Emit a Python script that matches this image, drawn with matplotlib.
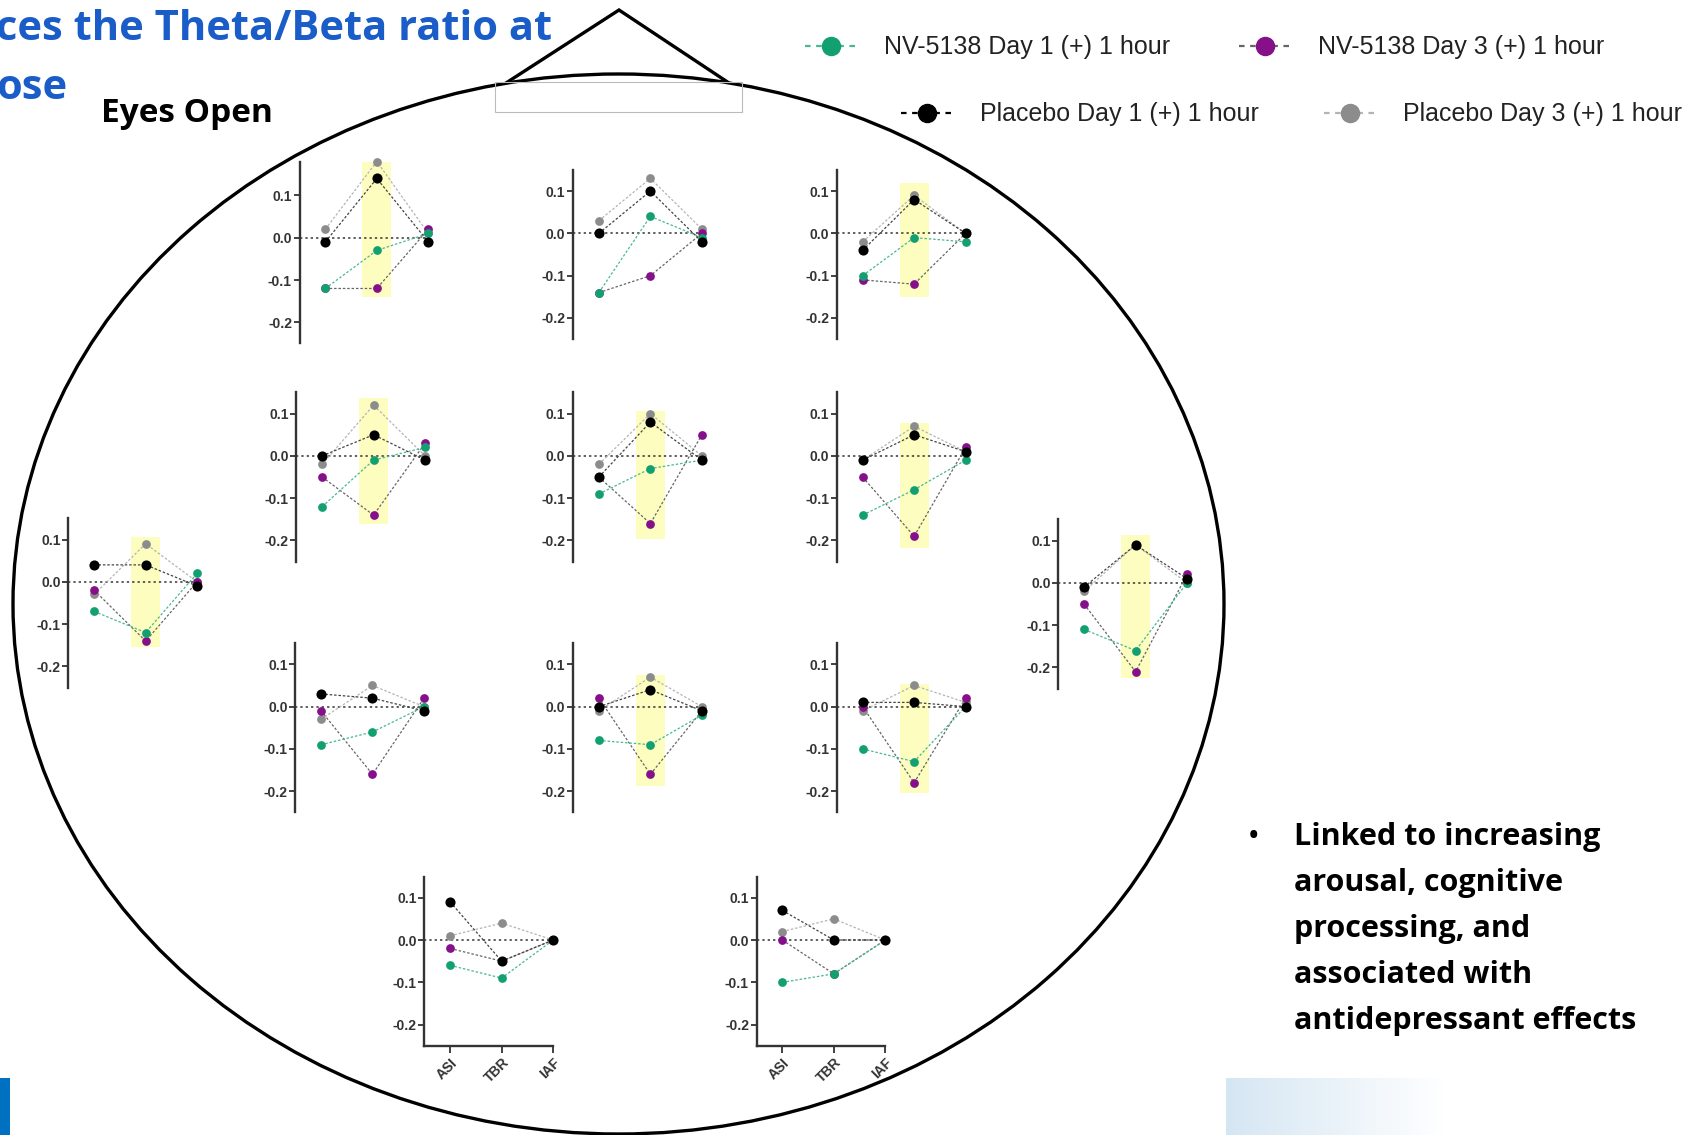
import numpy as np
import matplotlib
matplotlib.use("Agg")
import matplotlib.pyplot as plt
from matplotlib.patches import Ellipse, Rectangle, Polygon
from matplotlib.lines import Line2D
from matplotlib.colors import LinearSegmentedColormap

measures = ["ASI", "TBR", "IAF"]
series_names = ["NV-5138 Day 1 (+) 1 hour", "NV-5138 Day 3 (+) 1 hour",
                "Placebo Day 1 (+) 1 hour", "Placebo Day 3 (+) 1 hour"]

# one row per electrode panel, values for ASI, TBR, IAF
nv_day1 = [
    [-0.12, -0.03, 0.01],
    [-0.14, 0.04, -0.01],
    [-0.10, -0.01, -0.02],
    [-0.12, -0.01, 0.02],
    [-0.09, -0.03, -0.01],
    [-0.14, -0.08, -0.01],
    [-0.07, -0.12, 0.02],
    [-0.11, -0.16, 0.00],
    [-0.09, -0.06, 0.00],
    [-0.08, -0.09, -0.02],
    [-0.10, -0.13, 0.00],
    [-0.06, -0.09, 0.00],
    [-0.10, -0.08, 0.00],
]
nv_day3 = [
    [-0.12, -0.12, 0.02],
    [-0.14, -0.10, 0.00],
    [-0.11, -0.12, 0.00],
    [-0.05, -0.14, 0.03],
    [-0.05, -0.16, 0.05],
    [-0.05, -0.19, 0.02],
    [-0.02, -0.14, 0.00],
    [-0.05, -0.21, 0.02],
    [-0.01, -0.16, 0.02],
    [0.02, -0.16, -0.01],
    [0.00, -0.18, 0.02],
    [-0.02, -0.05, 0.00],
    [0.00, -0.08, 0.00],
]
placebo_day1 = [
    [-0.01, 0.14, -0.01],
    [0.00, 0.10, -0.02],
    [-0.04, 0.08, 0.00],
    [0.00, 0.05, -0.01],
    [-0.05, 0.08, -0.01],
    [-0.01, 0.05, 0.01],
    [0.04, 0.04, -0.01],
    [-0.01, 0.09, 0.01],
    [0.03, 0.02, -0.01],
    [0.00, 0.04, -0.01],
    [0.01, 0.01, 0.00],
    [0.09, -0.05, 0.00],
    [0.07, 0.00, 0.00],
]
placebo_day3 = [
    [0.02, 0.18, 0.01],
    [0.03, 0.13, 0.01],
    [-0.02, 0.09, 0.00],
    [-0.02, 0.12, 0.00],
    [-0.02, 0.10, 0.00],
    [-0.01, 0.07, 0.01],
    [-0.03, 0.09, 0.00],
    [-0.02, 0.09, 0.00],
    [-0.03, 0.05, 0.00],
    [-0.01, 0.07, 0.00],
    [-0.01, 0.05, 0.01],
    [0.01, 0.04, 0.00],
    [0.02, 0.05, 0.00],
]
# highlighted TBR band (top, bottom) or None
highlight = [(0.19, -0.14), None, (0.118, -0.151), (0.136, -0.16), (0.105, -0.197),
             (0.077, -0.218), (0.105, -0.154), (0.113, -0.226), None,
             (0.074, -0.187), (0.054, -0.205), None, None]

bullet_lines = ["Linked to increasing", "arousal, cognitive", "processing, and",
                "associated with", "antidepressant effects"]

# layout: spine x, zero-line y (pixels of a 1568 wide view), top of y axis
panel_pos = [(276, 219, 0.18), (528, 215, 0.15), (771, 215, 0.15),
             (273, 420, 0.15), (528, 420, 0.15), (771, 420, 0.15),
             (63, 536, 0.15), (975, 537, 0.15),
             (272, 651, 0.15), (528, 651, 0.15), (771, 651, 0.15),
             (391, 866, 0.15), (697, 866, 0.15)]
bottom_panels = [11, 12]

W, H = 1702, 1135
S = W / 1568.0
XU = 51.5   # px per category
YU = 423.0  # px per unit of y

marker_col = ["#13a070", "#85108a", "#000000", "#8c8c8c"]
line_col = ["#48b892", "#666666", "#444444", "#b4b4b4"]
draw_order = [3, 1, 0, 2]
msize = [6.3, 6.3, 7.3, 6.3]

fig = plt.figure(figsize=(W / 100, H / 100), dpi=100)
bg = fig.add_axes([0, 0, 1, 1])
bg.set_xlim(0, W)
bg.set_ylim(H, 0)
bg.axis("off")

# head outline, nose and small box
bg.add_patch(Ellipse((618.5, 604), 1211, 1060, fill=False, lw=2.4, ec="black"))
bg.add_patch(Polygon([[506, 83], [619, 10], [729, 83]], closed=False, fill=False,
                     lw=2.4, ec="black"))
bg.add_patch(Rectangle((495, 82), 247, 30, fill=False, lw=0.8, ec="#bbbbbb"))

# bottom decorations
bg.add_patch(Rectangle((0, 1078), 10, 57, color="#0070c0", lw=0))
grad = np.linspace(0, 1, 256).reshape(1, -1)
cmap = LinearSegmentedColormap.from_list("fade", ["#d5e6f3", "#ffffff"])
bg.imshow(grad, cmap=cmap, extent=(1226, 1445, 1135, 1078), aspect="auto")
bg.set_xlim(0, W)
bg.set_ylim(H, 0)

# title fragments
bg.text(-4, 40, "ces the Theta/Beta ratio at", color="#1a5dc8", fontsize=30,
        fontweight="bold", family="Open Sans", va="baseline", ha="left")
bg.text(-4, 99, "ose", color="#1a5dc8", fontsize=30, fontweight="bold",
        family="Open Sans", va="baseline", ha="left")
bg.text(101, 114, "Eyes Open", color="black", fontsize=24, fontweight="bold",
        family="Open Sans", va="center", ha="left")

# legend
leg_pos = [(831, 46), (1265, 46), (927, 113), (1350, 113)]
for i, (lx, ly) in enumerate(leg_pos):
    bg.add_line(Line2D([lx - 26, lx + 26], [ly, ly], color=line_col[i] if i != 2 else "#000000",
                       ls=(0, (2.5, 2.5)), lw=1.6))
    bg.plot(lx, ly, "o", color=marker_col[i], ms=13, zorder=5)
    bg.text(lx + 53, ly + 1, series_names[i], fontsize=18, family="Liberation Sans",
            va="center", ha="left", color="#222222")

# bullet text
for k, line in enumerate(bullet_lines):
    y = 837 + k * 46
    if k == 0:
        bg.text(1254, y, "\u2022", fontsize=18, fontweight="bold", family="Open Sans",
                va="center", ha="center")
    bg.text(1294, y, line, fontsize=22, fontweight="bold", family="Open Sans",
            va="center", ha="left")

xs = np.arange(len(measures))
series = [nv_day1, nv_day3, placebo_day1, placebo_day3]

for p, (sx, zy, ytop) in enumerate(panel_pos):
    x0 = sx * S
    y0 = zy * S
    left = x0 / W
    width = 2.5 * XU / W
    bottom = 1 - (y0 + 0.25 * YU) / H
    height = (ytop + 0.25) * YU / H
    ax = fig.add_axes([left, bottom, width, height])
    ax.patch.set_alpha(0)
    ax.set_xlim(-0.5, 2.0)
    ax.set_ylim(-0.25, ytop)
    for side in ["top", "right"]:
        ax.spines[side].set_visible(False)
    ax.spines["left"].set_linewidth(1.7)
    ax.spines["left"].set_color("#333333")
    ax.set_yticks([0.1, 0.0, -0.1, -0.2])
    ax.set_yticklabels(["0.1", "0.0", "-0.1", "-0.2"])
    ax.tick_params(axis="y", length=4, width=1.3, color="#333333", pad=1.5,
                   labelsize=10, labelcolor="#333333")
    for lab in ax.get_yticklabels():
        lab.set_fontweight("bold")
        lab.set_family("Liberation Sans")
    if p in bottom_panels:
        ax.spines["bottom"].set_linewidth(1.7)
        ax.spines["bottom"].set_color("#333333")
        ax.set_xticks(xs)
        ax.set_xticklabels(measures, rotation=45, ha="right",
                           rotation_mode="anchor")
        ax.tick_params(axis="x", length=5, width=1.3, color="#333333",
                       labelsize=10, labelcolor="#333333", pad=2)
        for lab in ax.get_xticklabels():
            lab.set_fontweight("bold")
            lab.set_family("Liberation Sans")
    else:
        ax.spines["bottom"].set_visible(False)
        ax.set_xticks([])

    if highlight[p] is not None:
        top, bot = highlight[p]
        ax.add_patch(Rectangle((1 - 0.28, bot), 0.56, top - bot,
                               color="#fdfdbf", lw=0, zorder=0))
    ax.axhline(0, color="#333333", lw=1.1, ls=(0, (1.5, 2)), zorder=1)

    for s in draw_order:
        vals = series[s][p]
        ax.plot(xs, vals, color=line_col[s], lw=0.9, ls=(0, (2, 1.5)),
                zorder=2 + draw_order.index(s), clip_on=False)
        ax.plot(xs, vals, "o", color=marker_col[s], ms=msize[s], mew=0,
                zorder=6 + draw_order.index(s), clip_on=False)

fig.savefig("out.png", dpi=100)
